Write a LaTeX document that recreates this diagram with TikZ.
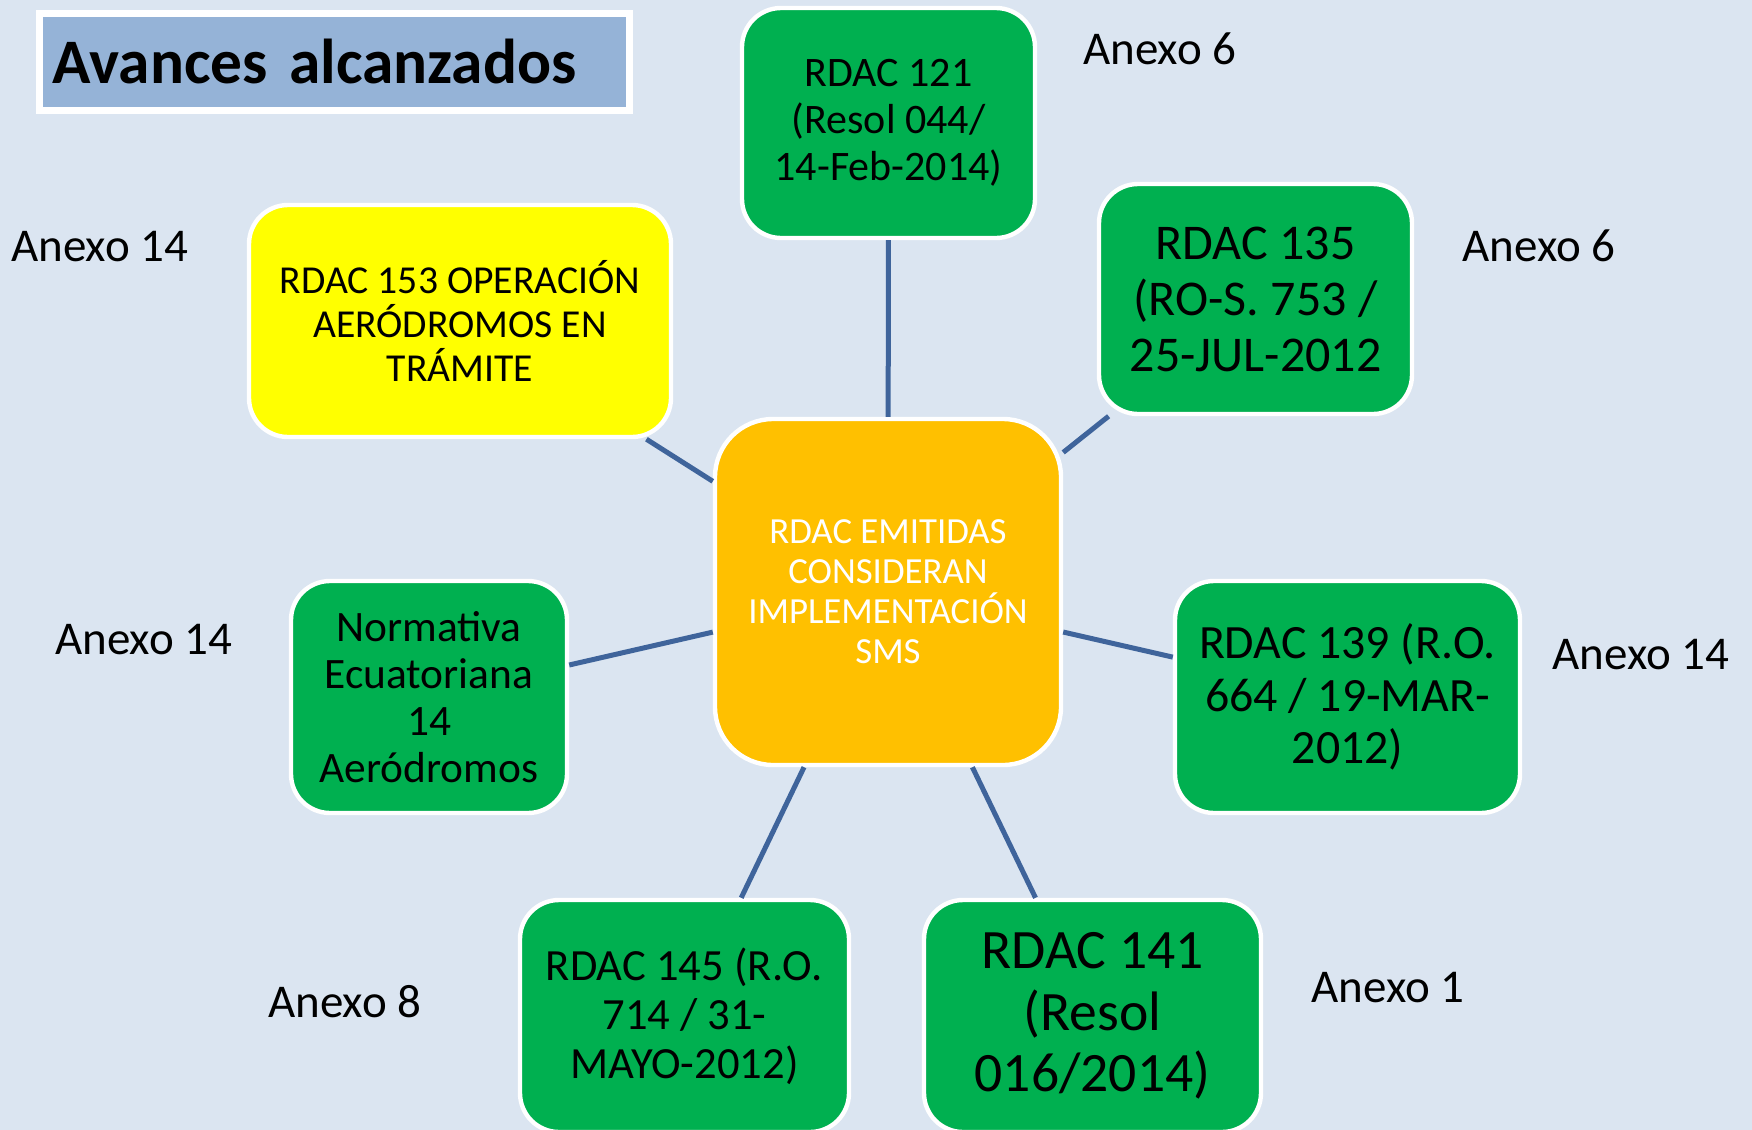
\documentclass[tikz,border=0pt]{standalone}
\usepackage{fontspec}
\setmainfont{Carlito}
\usetikzlibrary{shadows}

\definecolor{fondo}{HTML}{DBE5F1}
\definecolor{azultitulo}{HTML}{95B3D7}
\definecolor{verdeok}{HTML}{00B050}
\definecolor{amarillo}{HTML}{FFFF00}
\definecolor{naranja}{HTML}{FFC000}
\definecolor{linea}{HTML}{3F649B}

\begin{document}
\begin{tikzpicture}[x=0.5pt,y=-0.5pt,
  caja/.style={draw=white, line width=2.2pt, rounded corners=19.5pt,
    align=center, inner sep=0pt, minimum height=116pt},
  verde/.style={caja, fill=verdeok},
  spoke/.style={draw=linea, line width=2.5pt},
  anexo/.style={font=\fontsize{23.5}{28}\selectfont, anchor=base west, inner sep=0pt}]

  % Background
  \useasboundingbox (0,0) rectangle (1752,1130);
  \clip (0,0) rectangle (1752,1130);
  \fill[fondo] (0,0) rectangle (1752,1130);

  % Title
  \node[draw=white, line width=3.5pt, fill=azultitulo, anchor=north west,
    minimum height=48.5pt, text width=281pt, inner xsep=7pt, align=left,
    font=\fontsize{31.7}{35}\selectfont\bfseries,
    drop shadow={shadow xshift=1.5pt, shadow yshift=-2pt, opacity=.45}]
    (titulo) at (35.5,9.5) {Avances alcanzados};

  % Center node
  \node[caja, fill=naranja, text=white, rounded corners=29pt,
    minimum width=173pt, minimum height=173pt,
    font=\fontsize{18.4}{20}\selectfont]
    (sms) at (888,592) {RDAC EMITIDAS\\CONSIDERAN\\IMPLEMENTACIÓN\\SMS};

  % Outer nodes
  \node[verde, minimum width=146.5pt, minimum height=115pt,
    font=\fontsize{21}{23.5}\selectfont]
    (n121) at (888.5,123) {RDAC 121\\(Resol 044/\\14-Feb-2014)};
  \node[verde, minimum width=156.5pt, minimum height=115pt,
    font=\fontsize{25}{28}\selectfont]
    (n135) at (1255.5,299) {RDAC 135\\(RO-S. 753 /\\25-JUL-2012};
  \node[caja, fill=amarillo, minimum width=211pt,
    font=\fontsize{19.8}{22}\selectfont]
    (n153) at (460,321) {RDAC 153 OPERACIÓN\\AERÓDROMOS EN\\TRÁMITE};
  \node[verde, minimum width=138pt,
    font=\fontsize{21.7}{23.5}\selectfont]
    (nNorm) at (429,697) {Normativa\\Ecuatoriana\\14\\Aeródromos};
  \node[verde, minimum width=172.5pt,
    font=\fontsize{23.9}{26.2}\selectfont]
    (n139) at (1347.5,697) {RDAC 139 (R.O.\\664 / 19-MAR-\\2012)};
  \node[verde, minimum width=164.5pt,
    font=\fontsize{22.3}{24.5}\selectfont]
    (n145) at (684.5,1016) {RDAC 145 (R.O.\\714 / 31-\\MAYO-2012)};
  \node[verde, minimum width=168.5pt,
    font=\fontsize{27.8}{30.7}\selectfont]
    (n141) at (1092.5,1016) {RDAC 141\\(Resol\\016/2014)};

  % Spokes
  \foreach \n in {n121,n135,n153,nNorm,n139,n145,n141}
    \draw[spoke] (sms) -- (\n);

  % Annex labels
  \node[anexo] (a121) at (1083,64) {Anexo 6};
  \node[anexo] (a135) at (1462,261) {Anexo 6};
  \node[anexo] (a153) at (11,261) {Anexo 14};
  \node[anexo] (aNorm) at (55,654) {Anexo 14};
  \node[anexo] (a139) at (1552,669) {Anexo 14};
  \node[anexo] (a145) at (268,1017) {Anexo 8};
  \node[anexo] (a141) at (1311,1002) {Anexo 1};
\end{tikzpicture}
\end{document}
